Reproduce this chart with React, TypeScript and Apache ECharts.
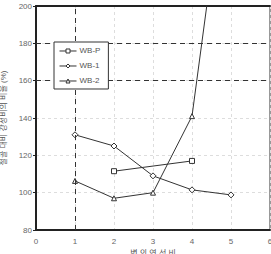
import React, { useEffect, useRef } from "react";
import * as echarts from "echarts";

const xTicks = [0, 1, 2, 3, 4, 5, 6];
const yTicks = [80, 100, 120, 140, 160, 180, 200];
const seriesNames = ["WB-P", "WB-1", "WB-2"];
const wbP = [
  [2, 111.5],
  [4, 117],
];
const wb1 = [
  [1, 131],
  [2, 125],
  [3, 109],
  [4, 101.5],
  [5, 98.8],
];
const wb2 = [
  [1, 106.3],
  [2, 97],
  [3, 100],
  [4, 141],
  [5, 297],
];
const darkH = [160, 180];
const darkV = [1];

export default function App() {
  const ref = useRef<HTMLDivElement>(null);
  useEffect(() => {
    document.body.style.margin = "0";
    const chart = echarts.init(ref.current!, null, { renderer: "svg" });
    const font = "'Liberation Sans', Arial, 'Noto Sans CJK KR', sans-serif";
    const lineColor = "#333";
    const mkSeries = (name: string, data: number[][], symbol: string, extra: any = {}) => ({
      name,
      type: "line",
      data,
      symbol,
      symbolSize: symbol === "diamond" ? 6 : 5,
      showSymbol: true,
      clip: true,
      itemStyle: { color: "#fff", borderColor: lineColor, borderWidth: 1 },
      lineStyle: { color: lineColor, width: 1 },
      ...extra,
    });
    chart.setOption({
      animation: false,
      textStyle: { fontFamily: font },
      grid: {
        left: 36,
        right: 1,
        top: 6,
        bottom: 24,
        show: true,
        borderColor: "#333",
        borderWidth: 1,
        outerBoundsMode: "none",
        containLabel: false,
      },
      legend: {
        data: seriesNames,
        orient: "vertical",
        left: 54,
        top: 42,
        z: 10,
        padding: [5, 8, 4, 5],
        itemGap: 7,
        itemWidth: 17,
        itemHeight: 5,
        backgroundColor: "#fff",
        borderColor: "#333",
        borderWidth: 1,
        borderRadius: 0,
        itemStyle: { color: "#fff", borderColor: "#333", borderWidth: 1 },
        lineStyle: { color: "#333", width: 1 },
        textStyle: { fontSize: 8, color: "#555", fontFamily: font, padding: [0, 0, 0, -2] },
      },
      xAxis: [
        {
          type: "value",
          min: xTicks[0],
          max: xTicks[xTicks.length - 1],
          interval: 1,
          name: "벽 의 연 성 비",
          nameLocation: "middle",
          nameGap: 15,
          nameTextStyle: { fontSize: 8, color: "#555" },
          axisLine: { show: true, lineStyle: { color: "#222", width: 2 } },
          axisTick: { show: false },
          axisLabel: { fontSize: 8, color: "#666", margin: 7 },
          splitLine: { show: true, lineStyle: { color: "#ddd", type: [3, 3], width: 1 } },
        },
        {
          type: "value",
          position: "top",
          min: 0,
          max: 6,
          interval: 1,
          axisLine: { show: true, lineStyle: { color: "#222", width: 2 } },
          axisTick: { show: false },
          axisLabel: { show: false },
          splitLine: { show: false },
        },
      ],
      yAxis: {
        type: "value",
        min: yTicks[0],
        max: yTicks[yTicks.length - 1],
        interval: 20,
        name: "철골 대비 강성비의 비율 (%)",
        nameLocation: "middle",
        nameGap: 22,
        nameTextStyle: { fontSize: 8, color: "#555" },
        axisLine: { show: true, lineStyle: { color: "#222", width: 2 } },
        axisTick: { show: true, length: 3, lineStyle: { color: "#222" } },
        axisLabel: { fontSize: 8, color: "#666", margin: 4 },
        splitLine: { show: true, lineStyle: { color: "#ddd", type: [3, 3], width: 1 } },
      },
      series: [
        mkSeries("WB-P", wbP, "rect", {
          markLine: {
            silent: true,
            symbol: "none",
            label: { show: false },
            lineStyle: { color: "#333", type: [5, 4], width: 1 },
            data: [
              ...darkH.map((v) => ({ yAxis: v })),
              ...darkV.map((v) => ({ xAxis: v })),
            ],
          },
        }),
        mkSeries("WB-1", wb1, "diamond"),
        mkSeries("WB-2", wb2, "triangle"),
      ],
    });
    return () => chart.dispose();
  }, []);
  return <div ref={ref} style={{ width: 271, height: 254, position: "absolute", left: 0, top: 0 }} />;
}
